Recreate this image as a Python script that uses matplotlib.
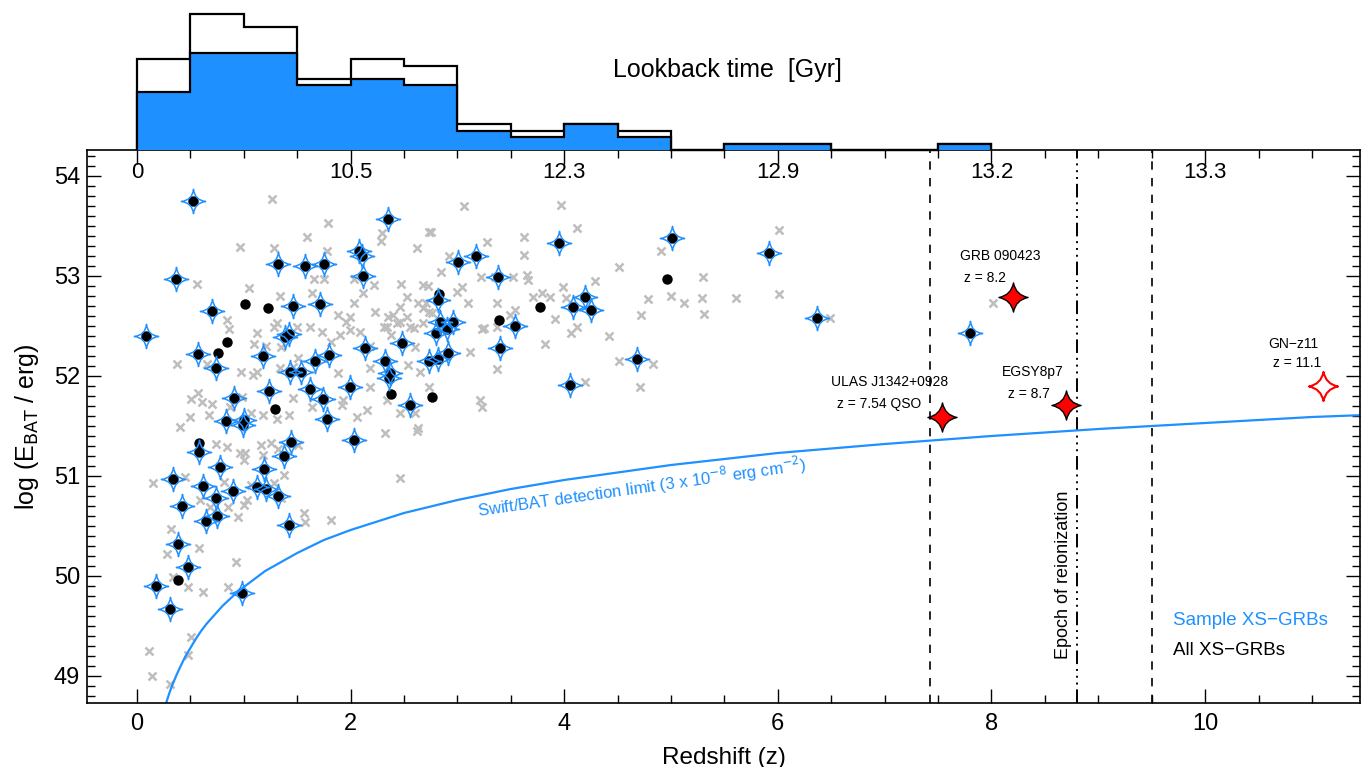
import numpy as np
import matplotlib.pyplot as plt
from matplotlib.path import Path
from matplotlib.ticker import MultipleLocator
import matplotlib.transforms as mtransforms

plt.rcParams['font.family'] = ['Liberation Sans', 'DejaVu Sans']

BLUE = '#1E90FF'
GREY = '#BEBEBE'

# ---- data ----
# sample XS-GRBs (dot + blue star)
sample_z = [0.52, 2.35, 0.365, 1.32, 1.57, 1.75, 2.08, 2.11, 2.12, 0.705, 1.46, 1.71,
            0.08, 0.57, 0.74, 1.39, 1.42, 1.18, 2.13, 1.67, 1.80, 2.48, 2.32, 2.37,
            2.36, 2.56, 1.43, 1.54, 1.24, 1.62, 1.74, 1.99, 0.91, 0.83, 1.00, 0.99,
            1.78, 3.95, 5.01, 5.92, 3.01, 3.17, 3.38, 2.82, 4.08, 4.19, 4.25, 3.54,
            2.84, 2.96, 2.90, 2.80, 2.91, 2.73, 2.82, 3.40, 4.68, 4.05, 6.37, 7.80,
            0.58, 0.78, 0.34, 0.62, 0.74, 0.42, 0.65, 0.75, 0.90, 1.19, 1.12, 1.21,
            1.32, 1.44, 1.38, 1.42, 2.03, 0.38, 0.48, 0.175, 0.31, 0.98]
sample_logE = [53.75, 53.57, 52.97, 53.12, 53.10, 53.12, 53.25, 53.20, 53.00, 52.65, 52.70, 52.72,
               52.40, 52.22, 52.08, 52.39, 52.42, 52.20, 52.28, 52.15, 52.21, 52.33, 52.15, 52.03,
               51.98, 51.71, 52.04, 52.04, 51.85, 51.87, 51.77, 51.89, 51.78, 51.55, 51.56, 51.51,
               51.57, 53.33, 53.38, 53.23, 53.14, 53.20, 52.99, 52.76, 52.69, 52.79, 52.66, 52.50,
               52.54, 52.54, 52.47, 52.43, 52.23, 52.15, 52.17, 52.28, 52.17, 51.91, 52.58, 52.43,
               51.24, 51.09, 50.97, 50.90, 50.78, 50.70, 50.55, 50.60, 50.85, 51.07, 50.89, 50.87,
               50.80, 51.34, 51.20, 50.51, 51.36, 50.32, 50.09, 49.90, 49.67, 49.83]

# other XS-GRBs (dot only)
other_z = [1.01, 1.23, 0.84, 0.76, 1.29, 2.38, 2.76, 4.96, 2.83, 3.77, 3.39, 0.58, 0.38]
other_logE = [52.72, 52.68, 52.34, 52.23, 51.67, 51.82, 51.79, 52.97, 52.82, 52.69, 52.56, 51.33, 49.96]

# all Swift GRBs (grey crosses)
swift_z = [1.26, 1.79, 1.59, 0.96, 1.28, 1.78, 2.29, 2.28, 2.62, 2.73, 1.66, 1.75, 2.03, 2.22,
           2.47, 2.68, 0.56, 1.05, 1.34, 1.64, 2.12, 2.53, 2.71, 2.68, 2.03, 2.46, 2.23, 2.35,
           2.40, 2.53, 1.88, 1.99, 1.96, 2.34, 2.43, 0.84, 0.86, 1.12, 1.28, 1.31, 1.50, 1.62,
           1.73, 1.90, 1.99, 2.09, 2.31, 2.46, 2.59, 2.68, 1.10, 1.21, 1.35, 1.51, 0.37, 0.66,
           0.97, 1.09, 1.12, 1.34, 1.46, 1.88, 2.18, 2.54, 2.65, 0.51, 0.57, 0.61, 0.70, 0.87,
           0.98, 1.07, 1.18, 1.31, 1.46, 1.64, 1.93, 2.06, 2.15, 2.34, 2.46, 2.60, 0.50, 0.40,
           3.06, 3.97, 2.75, 4.12, 6.01, 3.28, 3.62, 3.62, 2.92, 4.91, 4.51, 2.85, 3.22, 3.52,
           3.65, 3.66, 4.29, 5.30, 6.01, 5.61, 5.29, 5.12, 5.00, 4.78, 5.31, 4.72, 2.72, 2.63,
           3.04, 3.10, 3.00, 3.37, 3.71, 3.79, 3.87, 3.99, 4.02, 3.91, 4.12, 4.06, 3.82, 4.42,
           4.51, 4.83, 4.71, 4.19, 3.37, 3.12, 3.23, 3.25, 3.49, 3.54, 2.56, 2.73, 2.73, 2.60,
           3.21, 3.23, 2.63, 6.49, 8.01,
           0.74, 0.84, 0.96, 1.01, 1.16, 1.25, 1.18, 1.32, 1.00, 1.51, 2.32, 2.62, 0.15, 0.45,
           0.59, 0.68, 0.81, 0.85, 0.95, 1.00, 1.03, 1.07, 1.28, 1.38, 1.35, 1.56, 1.57, 1.82,
           2.46, 0.32, 0.28, 0.58, 0.93, 0.48, 0.62, 0.85, 0.34, 0.51, 0.48, 0.11, 0.14, 0.31,
           0.67, 1.42, 2.38, 1.82, 2.18, 2.18, 1.92, 3.35, 2.76, 3.37]
swift_logE = [53.77, 53.53, 53.39, 53.29, 53.28, 53.25, 53.43, 53.35, 53.28, 53.44, 52.97, 52.97, 52.97, 52.91,
              52.92, 52.91, 52.92, 52.88, 52.80, 52.83, 52.83, 52.79, 52.73, 52.68, 52.73, 52.69, 52.64, 52.59,
              52.61, 52.59, 52.61, 52.59, 52.54, 52.49, 52.53, 52.56, 52.47, 52.43, 52.49, 52.53, 52.49, 52.49,
              52.44, 52.41, 52.46, 52.44, 52.49, 52.54, 52.48, 52.53, 52.32, 52.30, 52.29, 52.18, 52.12, 52.12,
              52.04, 52.01, 52.04, 52.08, 52.09, 52.03, 52.08, 52.11, 52.04, 51.77, 51.83, 51.74, 51.72, 51.69,
              51.79, 51.63, 51.61, 51.57, 51.78, 51.69, 51.76, 51.59, 51.66, 51.76, 51.63, 51.63, 51.59, 51.49,
              53.70, 53.71, 53.44, 53.48, 53.46, 53.34, 53.39, 53.21, 53.20, 53.25, 53.09, 53.04, 52.99, 52.99,
              53.01, 52.96, 52.95, 52.99, 52.82, 52.78, 52.78, 52.73, 52.80, 52.77, 52.62, 52.61, 52.90, 52.73,
              52.89, 52.73, 52.84, 52.73, 52.79, 52.83, 52.79, 52.89, 52.78, 52.57, 52.49, 52.43, 52.32, 52.40,
              52.15, 52.12, 51.89, 51.94, 52.07, 52.24, 52.47, 52.48, 52.61, 52.66, 52.49, 52.64, 51.89, 52.29,
              51.76, 51.69, 51.48, 52.58, 52.73,
              51.32, 51.29, 51.23, 51.23, 51.31, 51.33, 51.21, 51.27, 51.16, 51.31, 51.43, 51.45, 50.93, 50.99,
              50.76, 50.69, 50.94, 50.69, 50.59, 50.71, 50.76, 50.91, 50.93, 51.01, 50.78, 50.63, 50.54, 50.56,
              50.98, 50.47, 50.22, 50.28, 50.14, 49.89, 49.84, 49.89, 49.99, 49.39, 49.21, 49.25, 49.00, 48.92,
              51.61, 51.61, 52.41, 52.34, 52.30, 51.89, 51.71, 52.99, 52.63, 52.49]

# high-z comparison objects
highz_names = ['ULAS J1342+0928', 'GRB 090423', 'EGSY8p7', 'GN\u2212z11']
highz_sub = ['z = 7.54 QSO', 'z = 8.2', 'z = 8.7', 'z = 11.1']
highz_z = [7.54, 8.2, 8.7, 11.1]
highz_logE = [51.59, 52.79, 51.71, 51.90]

# Swift/BAT detection limit curve
limit_z = [0.25, 0.27, 0.3, 0.32, 0.35, 0.37, 0.4, 0.45, 0.5, 0.55, 0.6, 0.65, 0.7, 0.8, 0.9,
           1.0, 1.2, 1.5, 1.75, 2.0, 2.5, 3.0, 3.5, 4.0, 5.0, 6.0, 7.0, 8.0, 9.0, 10.0, 11.0, 11.5]
limit_logE = [48.65, 48.72, 48.82, 48.88, 48.96, 49.01, 49.08, 49.19, 49.28, 49.37, 49.45, 49.52, 49.58,
              49.70, 49.80, 49.89, 50.05, 50.23, 50.36, 50.46, 50.63, 50.76, 50.87, 50.96, 51.11, 51.23,
              51.32, 51.40, 51.47, 51.53, 51.59, 51.61]

# reionization markers
reion_edges = [7.42, 9.5]
reion_mid = 8.8

# redshift histogram
hist_edges = [0, 0.5, 1.0, 1.5, 2.0, 2.5, 3.0, 3.5, 4.0, 4.5, 5.0, 5.5, 6.0, 6.5, 7.0, 7.5, 8.0]
hist_all = [14, 21, 19, 11, 14, 13, 4, 3, 4, 3, 0, 1, 1, 0, 0, 1]
hist_sample = [9, 15, 15, 10, 11, 10, 3, 2, 4, 2, 0, 1, 1, 0, 0, 1]

# lookback time labels along top axis
lookback_z = [0, 2, 4, 6, 8, 10]
lookback_labels = ['0', '10.5', '12.3', '12.9', '13.2', '13.3']


def sparkle(c=0.12):
    verts = [(0, 1), (c, c), (1, 0), (c, -c), (0, -1), (-c, -c), (-1, 0), (-c, c), (0, 1), (0, 1)]
    codes = [Path.MOVETO] + [Path.CURVE3] * 8 + [Path.CLOSEPOLY]
    return Path(verts, codes)


fig = plt.figure(figsize=(13.68, 7.67), dpi=100)
W, H = 1368, 767
L, R, T, B = 87, 1360, 150, 703
ax = fig.add_axes([L / W, 1 - B / H, (R - L) / W, (B - T) / H])
axh = fig.add_axes([L / W, 1 - T / H, (R - L) / W, 140 / H])

xlim = (-0.468, 11.45)
ax.set_xlim(*xlim)
ax.set_ylim(48.73, 54.26)

# main scatter
ax.plot(swift_z, swift_logE, ls='none', marker='x', ms=6, mew=1.8, color=GREY, zorder=1)
ax.plot(other_z, other_logE, ls='none', marker='o', ms=7.5, color='black', mec='none', zorder=2)
ax.plot(sample_z, sample_logE, ls='none', marker='o', ms=7.5, color='black', mec='none', zorder=2)
ax.plot(sample_z, sample_logE, ls='none', marker=sparkle(0.10), ms=17.5, mfc='none',
        mec=BLUE, mew=1.1, zorder=3)

# detection limit
ax.plot(limit_z, limit_logE, color=BLUE, lw=1.6, zorder=2)
ax.text(4.73, 50.89, 'Swift/BAT detection limit (3 x 10$^{-8}$ erg cm$^{-2}$)',
        color=BLUE, fontsize=12, rotation=8, ha='center', va='center')

# reionization lines
for zz in reion_edges:
    ax.axvline(zz, color='black', lw=1.2, ls=(0, (5, 5)), zorder=0)
ax.axvline(reion_mid, color='black', lw=1.4, ls=(0, (7, 2.5, 1, 2.5, 1, 2.5, 1, 2.5)), zorder=0)
ax.text(8.67, 50.01, 'Epoch of reionization', rotation=90, fontsize=13,
        ha='center', va='center')

# high-z objects
for i in range(3):
    ax.plot(highz_z[i], highz_logE[i], marker=sparkle(0.16), ms=21, mfc='red', mec='black',
            mew=1.0, ls='none', zorder=4)
ax.plot(highz_z[3], highz_logE[3], marker=sparkle(0.16), ms=21, mfc='white', mec='red',
        mew=1.5, ls='none', zorder=4)
name_pos = [(7.05, 51.94), (8.08, 53.20), (8.39, 52.04), (10.83, 52.32)]
sub_pos = [(6.95, 51.72), (7.94, 52.98), (8.35, 51.82), (10.86, 52.13)]
for i in range(4):
    ax.text(*name_pos[i], highz_names[i], fontsize=10, ha='center', va='center', zorder=3)
    ax.text(*sub_pos[i], highz_sub[i], fontsize=10, ha='center', va='center', zorder=3)

# legend-like text
ax.text(9.70, 49.55, 'Sample XS\u2212GRBs', color=BLUE, fontsize=13.5, ha='left', va='center')
ax.text(9.70, 49.25, 'All XS\u2212GRBs', color='black', fontsize=13.5, ha='left', va='center')

# axes styling
for s in ax.spines.values():
    s.set_linewidth(1.2)
ax.xaxis.set_major_locator(MultipleLocator(2))
ax.xaxis.set_minor_locator(MultipleLocator(0.5))
ax.yaxis.set_major_locator(MultipleLocator(1))
ax.yaxis.set_minor_locator(MultipleLocator(0.1))
ax.tick_params(which='both', direction='in', top=True, right=True, width=1.0)
ax.tick_params(which='major', length=10, labelsize=17)
ax.tick_params(which='minor', length=5.5)
ax.tick_params(axis='x', pad=7)
ax.tick_params(axis='y', pad=5)
ax.set_xlabel('Redshift (z)', fontsize=17.5, labelpad=9)
ax.set_ylabel('log (E$_{\\mathrm{BAT}}$ / erg)', fontsize=18, labelpad=9)

trans = mtransforms.blended_transform_factory(ax.transData, ax.transAxes)
for zz, lab in zip(lookback_z, lookback_labels):
    ax.text(zz, 0.960, lab, transform=trans, fontsize=16, ha='center', va='center')

# histogram
axh.set_xlim(*xlim)
axh.set_ylim(0, 21.6)
axh.stairs(hist_all, hist_edges, color='black', lw=1.6, clip_on=False, zorder=1)
axh.stairs(hist_sample, hist_edges, fill=True, color=BLUE, lw=0, zorder=2)
axh.stairs(hist_sample, hist_edges, color='black', lw=1.6, clip_on=False, zorder=3)
axh.axis('off')
fig.text(727 / W, 1 - 70 / H, 'Lookback time  [Gyr]', fontsize=18, ha='center', va='center')

fig.savefig('out.png', dpi=100)
